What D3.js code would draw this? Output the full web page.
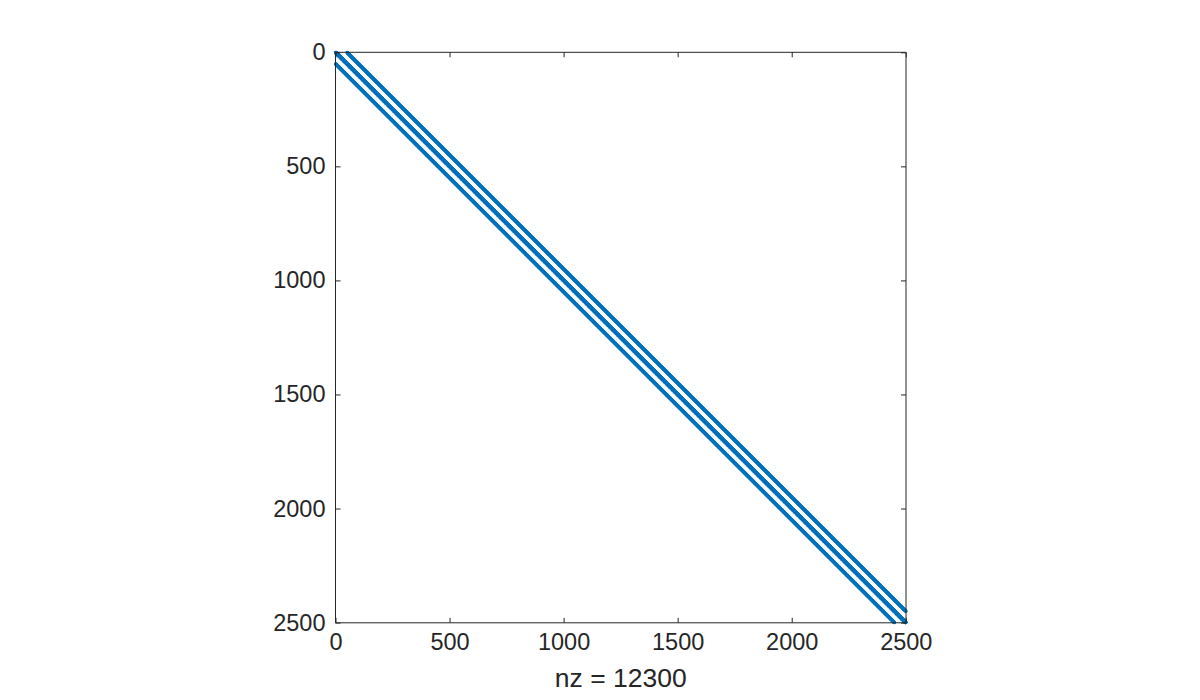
<!DOCTYPE html>
<html><head><meta charset="utf-8">
<script src="https://cdn.jsdelivr.net/npm/d3@7"></script>
<style>body{margin:0;background:#fff;} svg{display:block;font-family:"Liberation Sans",Arial,Helvetica,sans-serif;}</style>
</head><body>
<script>
// Data: 2-D 5-point Laplacian on a 50x50 grid -> 2500x2500 sparse matrix
const gridSize = 50;
const matrixSize = 2500;
const bandOffsets = [0, 1, -1, 50, -50];
const xTicks = [0, 500, 1000, 1500, 2000, 2500];
const yTicks = [0, 500, 1000, 1500, 2000, 2500];
const xLabel = "nz = 12300";

// build nonzero list from stencil structure
const nonzeros = [];
for (let i = 0; i < matrixSize; i++) {
  const r = Math.floor(i / gridSize);
  for (const off of bandOffsets) {
    const j = i + off;
    if (j < 0 || j >= matrixSize) continue;
    if (Math.abs(off) === 1 && Math.floor(j / gridSize) !== r) continue;
    nonzeros.push([i + 1, j + 1]);
  }
}

const W = 1200, H = 700;
const mLeft = 335.5, mTop = 52.3, size = 570.5;
const svg = d3.select("body").append("svg").attr("width", W).attr("height", H);

const x = d3.scaleLinear().domain([0, matrixSize + 1]).range([mLeft, mLeft + size]);
const y = d3.scaleLinear().domain([0, matrixSize + 1]).range([mTop, mTop + size]);

const color = "#0072BD", ink = "#262626";

// points
const g = svg.append("g");
g.selectAll("circle").data(nonzeros).enter().append("circle")
  .attr("cx", d => x(d[1])).attr("cy", d => y(d[0]))
  .attr("r", 1.8).attr("fill", color);

// axes (box with inward ticks)
const tl = 5;
const fs = 23.5;
const axB = svg.append("g").attr("transform", `translate(0,${mTop + size})`)
  .call(d3.axisBottom(x).tickValues(xTicks).tickSize(-tl).tickPadding(11).tickFormat(d3.format("d")));
const axT = svg.append("g").attr("transform", `translate(0,${mTop})`)
  .call(d3.axisTop(x).tickValues(xTicks).tickSize(-tl).tickFormat(""));
const axL = svg.append("g").attr("transform", `translate(${mLeft},0)`)
  .call(d3.axisLeft(y).tickValues(yTicks).tickSize(-tl).tickPadding(10).tickFormat(d3.format("d")));
const axR = svg.append("g").attr("transform", `translate(${mLeft + size},0)`)
  .call(d3.axisRight(y).tickValues(yTicks).tickSize(-tl).tickFormat(""));
[axB, axT, axL, axR].forEach(a => {
  a.select(".domain").attr("stroke", ink).attr("stroke-width", 1);
  a.selectAll(".tick line").attr("stroke", ink).attr("stroke-width", 1);
  a.selectAll("text").attr("fill", ink).style("font-size", fs + "px")
    .style("font-family", '"Liberation Sans",Arial,Helvetica,sans-serif');
});
axB.selectAll(".domain").attr("d", `M${mLeft},0H${mLeft + size}`);
axT.selectAll(".domain").attr("d", `M${mLeft},0H${mLeft + size}`);
axL.selectAll(".domain").attr("d", `M0,${mTop}V${mTop + size}`);
axR.selectAll(".domain").attr("d", `M0,${mTop}V${mTop + size}`);

svg.append("text").attr("x", mLeft + size / 2).attr("y", 687)
  .attr("text-anchor", "middle").attr("fill", ink)
  .style("font-size", "26.5px").text(xLabel);
</script>
</body></html>
